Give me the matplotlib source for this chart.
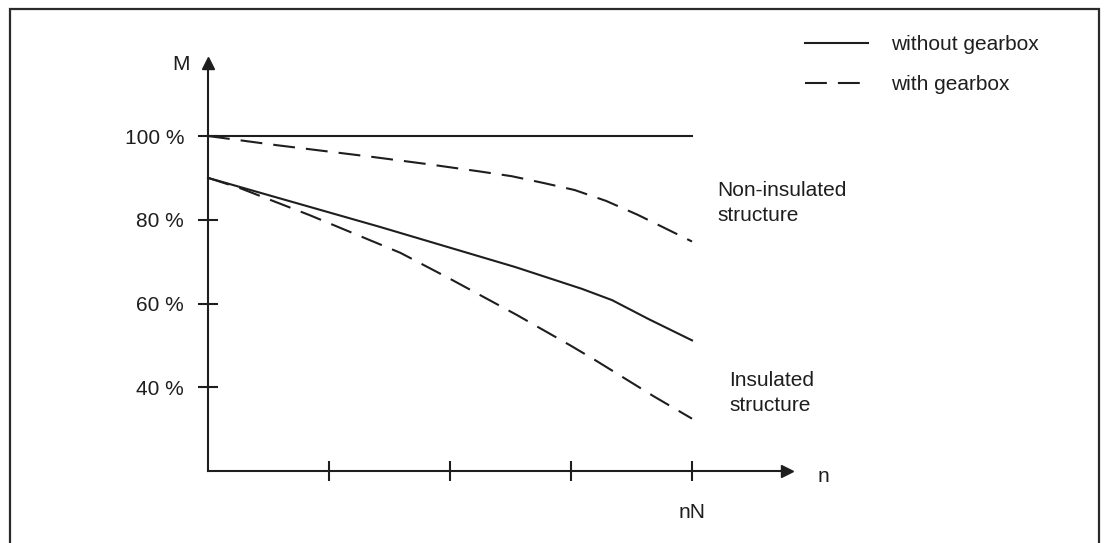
import matplotlib
matplotlib.use("Agg")
import matplotlib.pyplot as plt
from matplotlib.patches import Rectangle

# ---- data (speed in units of nN/4, torque in %) ----
non_ins_gear_speed = [0, 0.57, 1.36, 1.81, 2.23, 2.51, 2.77, 3.03, 3.29, 3.55, 3.79, 4.0]
non_ins_gear = [100, 97.8, 95.0, 93.3, 91.6, 90.4, 88.8, 87.1, 84.5, 81.2, 77.8, 74.8]

ins_nogear_speed = [0, 1.42, 1.98, 2.54, 3.09, 3.34, 3.64, 4.0]
ins_nogear = [90, 78.3, 73.5, 68.7, 63.5, 60.8, 56.3, 51.2]

ins_gear_speed = [0, 0.26, 0.84, 1.59, 2.0, 2.55, 3.0, 3.21, 3.68, 4.0]
ins_gear = [90, 87.6, 81.1, 72.1, 65.9, 57.3, 49.9, 46.3, 37.9, 32.5]

non_ins_nogear_speed = [0, 4.0]
non_ins_nogear = [100, 100]

y_ticks = [40, 60, 80, 100]
y_tick_labels = ["40 %", "60 %", "80 %", "100 %"]
x_ticks = [1, 2, 3, 4]
x_tick_labels = ["", "", "", "nN"]

plt.rcParams['font.family'] = ['Liberation Sans', 'DejaVu Sans']
FS = 15
INK = "#1e1e1e"

W, H = 1108, 543
fig = plt.figure(figsize=(W / 100, H / 100), dpi=100)
ax = fig.add_axes([0, 0, 1, 1])

# pixel mapping helpers
X0, XS = 208, 121.0
Y0, YS = 471, 4.1875
def X(px):
    return (px - X0) / XS
def Y(py):
    return 20 + (Y0 - py) / YS

ax.set_xlim(X(0), X(W))
ax.set_ylim(Y(H), Y(0))

lw = 1.5
dash = (10.5, 5.3)
ax.plot(non_ins_nogear_speed, non_ins_nogear, color=INK, lw=lw, label="without gearbox")
ax.plot(non_ins_gear_speed, non_ins_gear, color=INK, lw=lw, dashes=dash, label="with gearbox")
ax.plot(ins_nogear_speed, ins_nogear, color=INK, lw=lw)
ax.plot(ins_gear_speed, ins_gear, color=INK, lw=lw, dashes=dash)

# axes with arrows
for s in ["top", "right"]:
    ax.spines[s].set_visible(False)
ax.spines["left"].set_position(("data", 0))
ax.spines["bottom"].set_position(("data", 20))
ax.spines["left"].set_bounds(20, Y(66))
ax.spines["bottom"].set_bounds(0, X(784))
for s in ["left", "bottom"]:
    ax.spines[s].set_linewidth(1.5)
    ax.spines[s].set_color(INK)
ax.plot([0], [Y(63)], marker="^", ms=9, color=INK, clip_on=False)
ax.plot([X(787)], [20], marker=">", ms=9, color=INK, clip_on=False)

ax.set_yticks(y_ticks)
ax.set_yticklabels(y_tick_labels)
ax.set_xticks(x_ticks)
ax.set_xticklabels(x_tick_labels)
ax.tick_params(axis="y", direction="inout", length=14.4, width=1.5, color=INK,
               labelsize=FS, labelcolor=INK, pad=10)
ax.tick_params(axis="x", direction="inout", length=14.4, width=1.5, color=INK,
               labelsize=FS, labelcolor=INK, pad=16)

ax.text(X(190), Y(65), "M", fontsize=FS, color=INK, ha="right", va="center")
ax.text(X(818), Y(477), "n", fontsize=FS, color=INK, ha="left", va="center")

ax.text(X(717), Y(181), "Non-insulated\nstructure", fontsize=FS, color=INK,
        ha="left", va="top", linespacing=1.38)
ax.text(X(729), Y(371), "Insulated\nstructure", fontsize=FS, color=INK,
        ha="left", va="top", linespacing=1.38)

leg = ax.legend(loc="upper left", bbox_to_anchor=(805 / W, 1 - 35 / H),
                bbox_transform=fig.transFigure, frameon=False, fontsize=FS,
                handlelength=3.0, handletextpad=1.15, labelspacing=1.0,
                borderpad=0, borderaxespad=0)
for t in leg.get_texts():
    t.set_color(INK)

# outer frame
fig.patches.append(Rectangle((10 / W, -0.05), (1099 - 10) / W, 1.05 - 9 / H,
                             transform=fig.transFigure, fill=False,
                             edgecolor="#2a2a2a", lw=1.6))

fig.savefig("out.png", dpi=100)
